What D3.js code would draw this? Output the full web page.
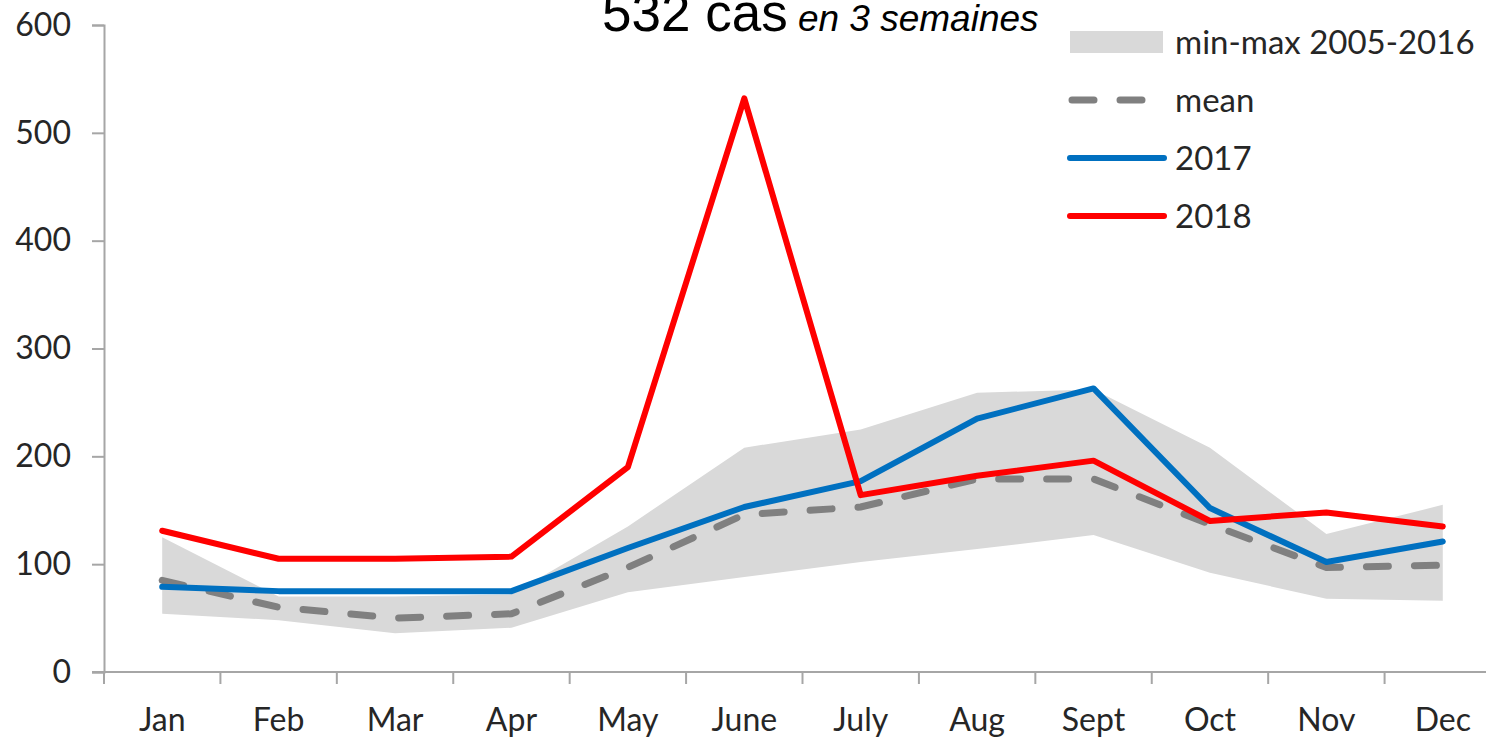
<!DOCTYPE html>
<html><head><meta charset="utf-8">
<script src="https://cdn.jsdelivr.net/npm/d3@7"></script>
<style>body{margin:0;background:#fff}svg{display:block}</style>
</head><body>
<svg id="c" width="1486" height="737"></svg>
<script>
const months = ["Jan","Feb","Mar","Apr","May","June","July","Aug","Sept","Oct","Nov","Dec"];
const bandMax = [125,70,70,72,135,208,225,259,262,208,128,155];
const bandMin = [54,48,36,41,74,88,102,114,127,92,68,66];
const meanVals = [85,60,50,54,97,146,153,179,179,137,97,99];
const y2017 = [79,75,75,75,115,153,177,235,263,152,102,121];
const y2018 = [131,105,105,107,190,532,164,182,196,140,148,135];
const yTicks = [0,100,200,300,400,500,600];
const legendLabels = ["min-max 2005-2016","mean","2017","2018"];

const svg = d3.select("#c");
const font = "Lato, 'Open Sans', sans-serif";
const x = d3.scaleBand().domain(months).range([104,1501]);
const y = d3.scaleLinear().domain([0,600]).range([672,25]);
const cx = d => x(d) + x.bandwidth()/2;

// band
const area = d3.area().x((d,i)=>cx(months[i])).y0((d,i)=>y(bandMin[i])).y1(d=>y(d));
svg.append("path").attr("d", area(bandMax)).attr("fill","#d9d9d9");

const line = d3.line().x((d,i)=>cx(months[i])).y(d=>y(d));
svg.append("path").attr("d", line(meanVals)).attr("fill","none").attr("stroke","#808080")
  .attr("stroke-width",7).attr("stroke-dasharray","22,26").attr("stroke-linecap","round");
svg.append("path").attr("d", line(y2017)).attr("fill","none").attr("stroke","#0070c0")
  .attr("stroke-width",6).attr("stroke-linejoin","round").attr("stroke-linecap","round");
svg.append("path").attr("d", line(y2018)).attr("fill","none").attr("stroke","#ff0000")
  .attr("stroke-width",6).attr("stroke-linejoin","round").attr("stroke-linecap","round");

// axes
const axisColor = "#a6a6a6";
const gy = svg.append("g").attr("transform","translate(104,0)")
  .call(d3.axisLeft(y).tickValues(yTicks).tickSize(12).tickPadding(21));
const gx = svg.append("g").attr("transform","translate(0,672)")
  .call(d3.axisBottom(x).tickSize(0).tickPadding(36));
[gy,gx].forEach(g=>{
  g.select(".domain").attr("stroke",axisColor).attr("stroke-width",2);
  g.selectAll(".tick line").attr("stroke",axisColor).attr("stroke-width",2);
  g.selectAll("text").attr("fill","#262626").style("font-family",font).style("font-size","32px");
});
gx.select(".domain").attr("d","M92,0H1501");
// x ticks between categories
gx.selectAll(".sep").data(months).enter().append("line").attr("class","sep")
  .attr("x1",d=>x(d)).attr("x2",d=>x(d)).attr("y1",0).attr("y2",12)
  .attr("stroke",axisColor).attr("stroke-width",2);
gx.selectAll(".tick text").attr("dy","0.71em");

// title
const t = svg.append("text").attr("x",602).attr("y",31).attr("fill","#000")
  .style("font-family","'Liberation Sans', Arial, sans-serif");
t.append("tspan").text("532 cas").style("font-size","53px");
t.append("tspan").text(" en 3 semaines").style("font-size","37px").style("font-style","italic");

// legend
const lg = svg.append("g");
const ly = [42,100,158,216];
lg.append("rect").attr("x",1070).attr("y",31).attr("width",93).attr("height",22).attr("fill","#d9d9d9");
lg.append("line").attr("x1",1072).attr("x2",1162).attr("y1",ly[1]).attr("y2",ly[1])
  .attr("stroke","#808080").attr("stroke-width",7).attr("stroke-dasharray","22,26").attr("stroke-linecap","round");
lg.append("line").attr("x1",1070).attr("x2",1164).attr("y1",ly[2]).attr("y2",ly[2])
  .attr("stroke","#0070c0").attr("stroke-width",6).attr("stroke-linecap","round");
lg.append("line").attr("x1",1070).attr("x2",1164).attr("y1",ly[3]).attr("y2",ly[3])
  .attr("stroke","#ff0000").attr("stroke-width",6).attr("stroke-linecap","round");
lg.selectAll("text.l").data(legendLabels).enter().append("text").attr("class","l")
  .attr("x",1175).attr("y",(d,i)=>ly[i]).attr("dy","0.36em").attr("fill","#262626")
  .style("font-family",font).style("font-size","33px").text(d=>d);
</script>
</body></html>
